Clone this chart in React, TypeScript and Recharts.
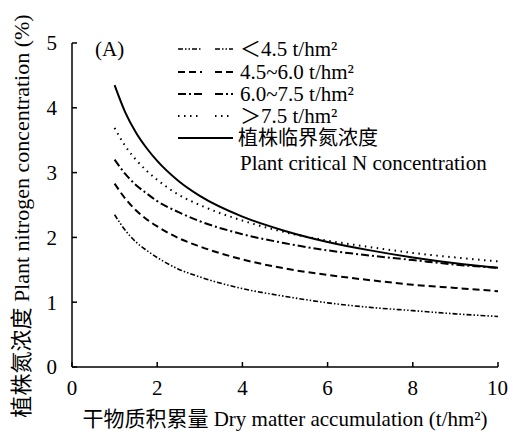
import { LineChart, Line, XAxis, YAxis, Legend } from "recharts"

// dry matter accumulation (t/hm2) where the curves were read
const dryMatter = [1, 1.25, 1.5, 1.75, 2, 2.5, 3, 4, 5, 6, 7, 8, 9, 10]

// plant N concentration (%) by yield group
const below45 = [2.35, 2.11, 1.93, 1.8, 1.69, 1.51, 1.39, 1.21, 1.09, 0.99, 0.92, 0.87, 0.82, 0.78]
const from45to60 = [2.83, 2.6, 2.42, 2.28, 2.17, 1.99, 1.86, 1.66, 1.52, 1.42, 1.34, 1.27, 1.22, 1.17]
const from60to75 = [3.2, 2.98, 2.81, 2.68, 2.56, 2.39, 2.25, 2.05, 1.91, 1.8, 1.72, 1.65, 1.58, 1.53]
const above75 = [3.69, 3.41, 3.2, 3.03, 2.89, 2.66, 2.5, 2.26, 2.08, 1.95, 1.85, 1.76, 1.69, 1.63]
const critical = [4.35, 3.93, 3.62, 3.38, 3.18, 2.87, 2.64, 2.32, 2.1, 1.93, 1.8, 1.69, 1.6, 1.53]

const seriesNames = ["＜4.5 t/hm²", "4.5~6.0 t/hm²", "6.0~7.5 t/hm²", "＞7.5 t/hm²", "植株临界氮浓度"]
const criticalSubtitle = "Plant critical N concentration"
const xTicks = [0, 2, 4, 6, 8, 10]
const yTicks = [0, 1, 2, 3, 4, 5]

const seriesValues = [below45, from45to60, from60to75, above75, critical]

const data = dryMatter.map((x, i) => {
  const row: Record<string, number> = { x }
  seriesValues.forEach((vals, k) => {
    row["s" + k] = vals[i]
  })
  return row
})

const FONT = '"Liberation Serif", "Times New Roman", "Noto Sans CJK SC", serif'

const lineStyles = [
  { dash: "5 2 1.5 2 1.5 2", width: 1.6 },
  { dash: "7 4", width: 2 },
  { dash: "8 3 2 3", width: 2 },
  { dash: "1.5 4.5", width: 2 },
  { dash: undefined, width: 2 },
]

function DoseLegend() {
  const rowY = [13, 36, 58, 80, 102]
  const textY = [20, 43, 65, 87, 109]
  return (
    <svg width={330} height={145} style={{ display: "block", overflow: "visible" }}>
      {seriesNames.map((name, i) => {
        const st = lineStyles[i]
        const y = rowY[i]
        const solid = !st.dash
        return (
          <g key={name}>
            {solid ? (
              <line x1={8} x2={63} y1={y} y2={y} stroke="#000" strokeWidth={st.width} />
            ) : (
              <>
                <line x1={8} x2={32} y1={y} y2={y} stroke="#000" strokeWidth={st.width} strokeDasharray={st.dash} />
                <line x1={45} x2={63} y1={y} y2={y} stroke="#000" strokeWidth={st.width} strokeDasharray={st.dash} />
              </>
            )}
            <text x={solid ? 68 : 70} y={textY[i]} fontSize={solid ? 20 : 21} fontFamily={FONT} fill="#000">
              {name}
            </text>
          </g>
        )
      })}
      {/* second line of the critical curve label */}
      <text x={70} y={134} fontSize={21} fontFamily={FONT} fill="#000">
        {criticalSubtitle}
      </text>
    </svg>
  )
}

export default function App() {
  return (
    <div style={{ position: "absolute", left: 0, top: 0, width: 508, height: 435, background: "#fff" }}>
      <LineChart width={508} height={435} data={data} margin={{ top: 43, right: 10, bottom: 0, left: 0 }}>
        <XAxis
          dataKey="x"
          type="number"
          domain={[0, 10]}
          ticks={xTicks}
          height={68}
          tickSize={-5}
          tickMargin={18}
          stroke="#000"
          strokeWidth={1.5}
          tick={{ fill: "#000", fontSize: 21, fontFamily: FONT }}
          label={{
            content: () => (
              <text x={285} y={426} textAnchor="middle" fontSize={21} fontFamily={FONT} fill="#000">
                干物质积累量 Dry matter accumulation (t/hm²)
              </text>
            ),
          }}
        />
        <YAxis
          type="number"
          domain={[0, 5]}
          ticks={yTicks}
          width={72}
          tickSize={-5}
          tickMargin={20}
          stroke="#000"
          strokeWidth={1.5}
          tick={{ fill: "#000", fontSize: 21, fontFamily: FONT }}
          label={{
            content: () => (
              <text
                x={29}
                y={216}
                transform="rotate(-90 29 216)"
                textAnchor="middle"
                fontSize={22}
                fontFamily={FONT}
                fill="#000"
              >
                植株氮浓度 Plant nitrogen concentration (%)
              </text>
            ),
          }}
        />
        <Legend
          layout="vertical"
          verticalAlign="middle"
          align="center"
          wrapperStyle={{ left: 170, top: 36, width: 330, height: 145 }}
          content={() => <DoseLegend />}
        />
        {seriesNames.map((name, i) => (
          <Line
            key={name}
            type="monotone"
            dataKey={"s" + i}
            name={name}
            stroke="#000"
            strokeWidth={lineStyles[i].width}
            strokeDasharray={lineStyles[i].dash}
            dot={false}
            isAnimationActive={false}
          />
        ))}
      </LineChart>
      <div
        style={{
          position: "absolute",
          left: 95,
          top: 37,
          fontSize: 21,
          fontFamily: FONT,
          lineHeight: "24px",
        }}
      >
        (A)
      </div>
    </div>
  )
}
